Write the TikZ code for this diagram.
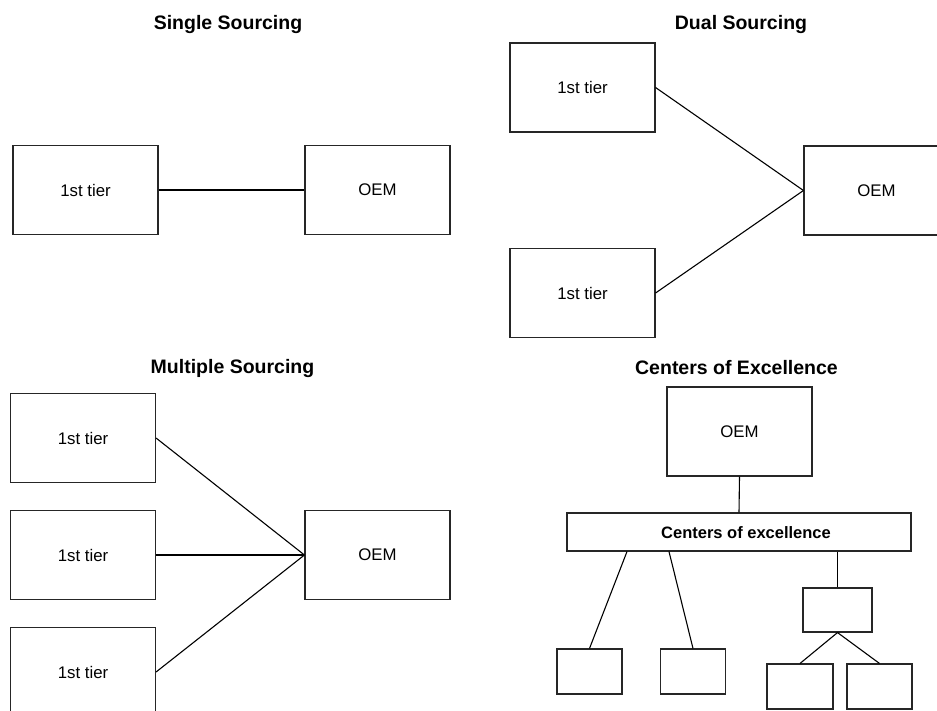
\documentclass[tikz,border=0pt]{standalone}
\usepackage{fontspec}
\setmainfont{Liberation Sans}
\begin{document}
\begin{tikzpicture}[x=1pt,y=-1pt,
  box/.style={draw=black!85,line width=1.1pt,rectangle,inner sep=0pt,font=\fontsize{16.8}{19}\selectfont},
  tier/.style={box,minimum width=145pt,minimum height=89pt},
  small/.style={box,minimum width=65pt,minimum height=45pt},
  title/.style={font=\fontsize{19.5}{23}\selectfont\bfseries,inner sep=0pt},
  conn/.style={draw=black,line width=1.1pt}]
\useasboundingbox (0,0) rectangle (937,710);
% titles
\node[title] (t1) at (228,24) {Single Sourcing};
\node[title] (t2) at (741,24) {Dual Sourcing};
\node[title] (t3) at (232.5,368) {Multiple Sourcing};
\node[title] (t4) at (736.5,368) {Centers of Excellence};
% single sourcing
\node[tier] (s1) at (85.5,190) {1st tier};
\node[tier] (s2) at (377.5,190) {OEM};
\draw[conn] (s1.east) -- (s2.west);
% dual sourcing
\node[tier] (d1) at (582.5,87.5) {1st tier};
\node[tier] (d2) at (582.5,293) {1st tier};
\node[tier] (d3) at (876.5,190.5) {OEM};
\draw[conn] (d1.east) -- (d3.west);
\draw[conn] (d2.east) -- (d3.west);
% multiple sourcing
\node[tier] (m1) at (83,438) {1st tier};
\node[tier] (m2) at (83,555) {1st tier};
\node[tier] (m3) at (83,672) {1st tier};
\node[tier] (m4) at (377.5,555) {OEM};
\draw[conn] (m1.east) -- (m4.west);
\draw[conn] (m2.east) -- (m4.west);
\draw[conn] (m3.east) -- (m4.west);
% centers of excellence
\node[tier] (c1) at (739.5,431.5) {OEM};
\node[box,minimum width=344pt,minimum height=38pt] (bar) at (739,532) {};
\node[font=\fontsize{16.5}{19}\selectfont\bfseries,inner sep=0pt] (barlabel) at (746,533) {Centers of excellence};
\draw[conn] (c1.south) -- (bar.north);
\node[small] (b1) at (589.5,671.5) {};
\node[small] (b2) at (693,671.5) {};
\node[box,minimum width=69pt,minimum height=44pt] (b3) at (837.5,610) {};
\node[small,minimum width=66pt] (b4) at (800,686.5) {};
\node[small] (b5) at (879.5,686.5) {};
\draw[conn] ([xshift=-112pt]bar.south) -- (b1.north);
\draw[conn] ([xshift=-70pt]bar.south) -- (b2.north);
\draw[conn] (bar.south -| b3.north) -- (b3.north);
\draw[conn] (b3.south) -- (b4.north);
\draw[conn] (b3.south) -- (b5.north);
\end{tikzpicture}
\end{document}
